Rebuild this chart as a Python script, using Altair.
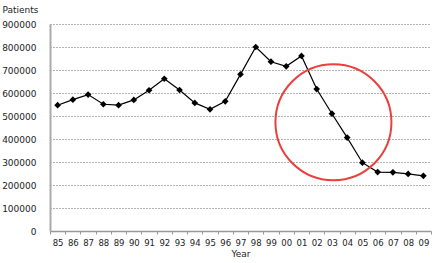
import altair as alt
import pandas as pd

years = ["85", "86", "87", "88", "89", "90", "91", "92", "93", "94", "95", "96",
         "97", "98", "99", "00", "01", "02", "03", "04", "05", "06", "07", "08", "09"]
patients = [547000, 571000, 593000, 551000, 547000, 570000, 612000, 662000, 613000,
            557000, 529000, 564000, 681000, 800000, 736000, 716000, 761000, 617000,
            510000, 406000, 297000, 256000, 255000, 248000, 240000]
y_ticks = [0, 100000, 200000, 300000, 400000, 500000, 600000, 700000, 800000, 900000]

# highlight circle annotation (center in data terms)
circle_year = ["03"]
circle_value = [473000]

df = pd.DataFrame({"Year": years, "Patients": patients})
circ = pd.DataFrame({"Year": circle_year, "Patients": circle_value})

FONT = "DejaVu Sans"

xenc = alt.X("Year:N", sort=years, bandPosition=0.5,
             scale=alt.Scale(type="band", paddingInner=0, paddingOuter=0),
             axis=alt.Axis(title="Year", labelAngle=0, tickBand="extent",
                           labelOverlap=False,
                           domainColor="#999999", domainWidth=1.5,
                           tickColor="#999999", tickSize=3, labelPadding=4,
                           labelFont=FONT, labelFontSize=8.5, labelColor="#222222",
                           titleFont=FONT, titleFontSize=9, titleFontWeight="normal",
                           titleColor="#222222", titlePadding=3, grid=False))

yenc = alt.Y("Patients:Q",
             scale=alt.Scale(domain=[0, 900000], nice=False),
             axis=alt.Axis(values=y_ticks, format="d", title="Patients",
                           labelOverlap=False,
                           titleAngle=0, titleAlign="left", titleBaseline="top",
                           titleX=-48, titleY=-19, titleFont=FONT, titleFontSize=9,
                           titleFontWeight="normal", titleColor="#222222",
                           tickSize=0, labelPadding=14, labelFont=FONT,
                           labelFontSize=9, labelColor="#222222",
                           domainColor="#aaaaaa", domainWidth=2,
                           grid=True, gridColor="#666666", gridDash=[1, 2],
                           gridWidth=1))

base = alt.Chart(df).encode(x=xenc, y=yenc)
line = base.mark_line(color="black", strokeWidth=1.2)
pts = base.mark_point(shape="diamond", filled=True, color="black", size=45, opacity=1)
ring = alt.Chart(circ).mark_point(shape="circle", filled=False, color="#e8403c",
                                  strokeWidth=2, size=13456, opacity=1, xOffset=1.5).encode(
    x=xenc, y=yenc)

chart = (line + pts + ring).properties(
    width=381, height=207,
    autosize=alt.AutoSizeParams(type="none"),
    padding={"left": 50, "top": 24, "right": 5, "bottom": 32},
    background="white",
).configure_view(stroke=None)

chart.save("out.html", embed_options={"renderer": "svg", "actions": False})
